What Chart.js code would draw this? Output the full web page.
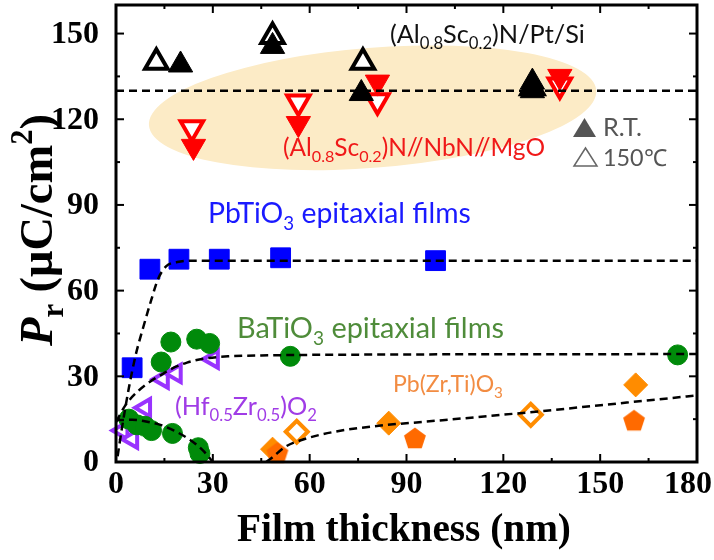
<!DOCTYPE html>
<html>
<head>
<meta charset="utf-8">
<script src="https://cdn.jsdelivr.net/npm/chart.js@4.4.0/dist/chart.umd.min.js"></script>
<style>
  html, body { margin: 0; padding: 0; background: #fff; }
  #wrap { width: 714px; height: 560px; }
</style>
</head>
<body>
<div id="wrap"><canvas id="prChart" width="714" height="560"></canvas></div>
<script>
// Tick labels
const xTicks = [0, 30, 60, 90, 120, 150, 180];
const yTicks = [0, 30, 60, 90, 120, 150];

// (Al0.8Sc0.2)N/Pt/Si  (R.T. filled, 150C open)
const alscSiRT = [{x: 20, y: 139}, {x: 48.5, y: 145.5}, {x: 76, y: 129}, {x: 129, y: 130}, {x: 129, y: 133}];
const alscSi150 = [{x: 12.5, y: 140}, {x: 48.5, y: 149}, {x: 76.5, y: 140}, {x: 129, y: 131}];

// (Al0.8Sc0.2)N//NbN//MgO
const alscMgoRT = [{x: 24, y: 110.5}, {x: 56.5, y: 118.5}, {x: 81, y: 133}, {x: 137.5, y: 135}];
const alscMgo150 = [{x: 23.5, y: 117}, {x: 56.5, y: 126}, {x: 81, y: 126.5}, {x: 137.5, y: 132}];

// PbTiO3 epitaxial films
const pbtio3 = [{x: 5, y: 33}, {x: 10.5, y: 67.5}, {x: 19.5, y: 71}, {x: 32, y: 71}, {x: 51, y: 71.5}, {x: 99, y: 70.5}];

// BaTiO3 epitaxial films
const batio3 = [
  {x: 4, y: 15}, {x: 6.5, y: 13}, {x: 9, y: 12.5}, {x: 11, y: 11}, {x: 17.5, y: 10},
  {x: 25.5, y: 5}, {x: 26, y: 3}, {x: 14, y: 35}, {x: 17, y: 42}, {x: 25, y: 43},
  {x: 29, y: 41.5}, {x: 54, y: 37}, {x: 174, y: 37.5}
];

// (Hf0.5Zr0.5)O2
const hzo = [{x: 2, y: 11}, {x: 5, y: 8}, {x: 9, y: 19}, {x: 14.5, y: 29}, {x: 18.5, y: 31}, {x: 30, y: 36}];

// Pb(Zr,Ti)O3
const pztFilled = [{x: 48.5, y: 4.5}, {x: 84.5, y: 13.6}, {x: 161, y: 27}];
const pztOpen = [{x: 56, y: 10.6}, {x: 128.5, y: 16.5}];
const pztPenta = [{x: 50, y: 3.3}, {x: 92.6, y: 8.4}, {x: 160.5, y: 14.6}];

// dashed guide curves
const guideAlsc = [{x: 0, y: 130}, {x: 180, y: 130}];
const guidePbtio3 = [
  {x: 0.5, y: 2}, {x: 2, y: 13}, {x: 4, y: 26}, {x: 6, y: 37}, {x: 8.4, y: 47}, {x: 11, y: 57},
  {x: 13, y: 64}, {x: 15.5, y: 68.5}, {x: 19, y: 70}, {x: 25, y: 70.5}, {x: 40, y: 70.5}, {x: 180, y: 70.5}
];
const guideBatio3Up = [
  {x: 0, y: 14}, {x: 3, y: 20}, {x: 7, y: 25}, {x: 11, y: 28.5}, {x: 14, y: 30.5}, {x: 17, y: 32.5},
  {x: 22, y: 34.8}, {x: 28, y: 36.3}, {x: 35, y: 37}, {x: 45, y: 37.3}, {x: 60, y: 37.5}, {x: 180, y: 37.8}
];
const guideBatio3Down = [
  {x: 0, y: 14.6}, {x: 5, y: 14.8}, {x: 10, y: 14}, {x: 14, y: 12.9}, {x: 18, y: 11},
  {x: 23, y: 7.7}, {x: 27, y: 4}, {x: 30, y: 0}
];
const guidePzt = [
  {x: 46.5, y: 0}, {x: 48, y: 1.2}, {x: 52.4, y: 5.3}, {x: 57.5, y: 7.7}, {x: 67.8, y: 10.6},
  {x: 83.3, y: 12.9}, {x: 95.7, y: 14.1}, {x: 128, y: 17.4}, {x: 180, y: 23.3}
];

// pentagon marker
function makePentagon(size, color) {
  const c = document.createElement('canvas');
  c.width = size; c.height = size;
  const g = c.getContext('2d');
  const r = size / 2 - 0.5;
  g.beginPath();
  for (let i = 0; i < 5; i++) {
    const a = -Math.PI / 2 + i * 2 * Math.PI / 5;
    const px = size / 2 + r * Math.cos(a), py = size / 2 + 1 + r * Math.sin(a);
    i ? g.lineTo(px, py) : g.moveTo(px, py);
  }
  g.closePath();
  g.fillStyle = color;
  g.fill();
  return c;
}

// draws text with sub/superscripts; optional width scales the font to fit
function drawRuns(ctx, runs, x, y, opts) {
  const family = opts.family, weight = opts.weight || 'normal';
  const layout = size => runs.map(([t, mode, style]) => {
    const s = mode ? size * 0.66 : size;
    const font = `${style || 'normal'} ${weight} ${s}px ${family}`;
    ctx.font = font;
    const dy = mode === 'sub' ? size * 0.24 : mode === 'sup' ? -size * 0.42 : 0;
    return {t, font, w: ctx.measureText(t).width, dy};
  });
  let size = opts.size;
  let parts = layout(size);
  let total = parts.reduce((a, p) => a + p.w, 0);
  if (opts.width) {
    size = size * opts.width / total;
    parts = layout(size);
    total = parts.reduce((a, p) => a + p.w, 0);
  }
  let cx = opts.align === 'center' ? x - total / 2 : x;
  ctx.fillStyle = opts.color;
  ctx.textAlign = 'left';
  ctx.textBaseline = 'alphabetic';
  parts.forEach(p => { ctx.font = p.font; ctx.fillText(p.t, cx, y + p.dy); cx += p.w; });
  return total;
}

const SANS = 'Lato, "Open Sans", sans-serif';
const SERIF = '"Liberation Serif", "Times New Roman", serif';
const TICK_FONT = `bold 32px ${SERIF}`;

const backdrop = {
  id: 'backdrop',
  beforeDatasetsDraw(chart) {
    const {ctx, scales: {x, y}} = chart;
    const cx = x.getPixelForValue(79.5), cy = y.getPixelForValue(124);
    const rx = x.getPixelForValue(69.5) - x.getPixelForValue(0);
    const ry = y.getPixelForValue(0) - y.getPixelForValue(21);
    ctx.save();
    ctx.fillStyle = '#fcebc6';
    ctx.beginPath();
    ctx.ellipse(cx, cy, rx, ry, -4.5 * Math.PI / 180, 0, 2 * Math.PI);
    ctx.fill();
    ctx.restore();
  },
  afterDraw(chart) {
    const {ctx, chartArea: a, scales: {x, y}} = chart;
    ctx.save();
    ctx.strokeStyle = '#000';
    ctx.lineWidth = 2;
    const seg = (x1, y1, x2, y2) => { ctx.beginPath(); ctx.moveTo(x1, y1); ctx.lineTo(x2, y2); ctx.stroke(); };
    for (let v = 0; v <= 180; v += 15) {
      const px = x.getPixelForValue(v), len = v % 30 ? 4 : 8;
      seg(px, a.bottom, px, a.bottom - len);
      seg(px, a.top, px, a.top + len);
    }
    for (let v = 0; v <= 160; v += 15) {
      const py = y.getPixelForValue(v), len = v % 30 ? 4 : 8;
      seg(a.left, py, a.left + len, py);
      seg(a.right, py, a.right - len, py);
    }
    ctx.lineWidth = 3;
    ctx.strokeRect(a.left, a.top, a.right - a.left, a.bottom - a.top);

    // tick labels; the last x label is kept inside the canvas
    ctx.font = TICK_FONT;
    ctx.fillStyle = '#000';
    ctx.textBaseline = 'top';
    ctx.textAlign = 'center';
    xTicks.forEach(v => {
      const w = ctx.measureText(String(v)).width;
      const px = Math.min(x.getPixelForValue(v), chart.width - 2 - w / 2);
      ctx.fillText(String(v), px, a.bottom + 7);
    });
    ctx.textBaseline = 'middle';
    ctx.textAlign = 'right';
    yTicks.forEach(v => ctx.fillText(String(v), a.left - 17, y.getPixelForValue(v) + 1));

    // annotations
    const f = {size: 24, family: SANS};
    drawRuns(ctx, [['(Al'], ['0.8', 'sub'], ['Sc'], ['0.2', 'sub'], [')N/Pt/Si']], 390, 43, {...f, width: 195, color: '#111'});
    drawRuns(ctx, [['(Al'], ['0.8', 'sub'], ['Sc'], ['0.2', 'sub'], [')N//NbN//MgO']], 283, 156, {...f, width: 262, color: '#f01818'});
    drawRuns(ctx, [['PbTiO'], ['3', 'sub'], [' epitaxial films']], 208, 223, {...f, width: 263, color: '#1a1aff'});
    drawRuns(ctx, [['BaTiO'], ['3', 'sub'], [' epitaxial films']], 237, 338, {...f, width: 267, color: '#4f8c3a'});
    drawRuns(ctx, [['(Hf'], ['0.5', 'sub'], ['Zr'], ['0.5', 'sub'], [')O'], ['2', 'sub']], 175, 415, {...f, width: 142, color: '#a03ce6'});
    drawRuns(ctx, [['Pb(Zr,Ti)O'], ['3', 'sub']], 393, 392, {...f, width: 110, color: '#f28c42'});

    // R.T. / 150C key
    ctx.fillStyle = '#555';
    ctx.beginPath(); ctx.moveTo(573, 137); ctx.lineTo(596, 137); ctx.lineTo(584.5, 118); ctx.closePath(); ctx.fill();
    ctx.strokeStyle = '#666'; ctx.lineWidth = 1.5;
    ctx.beginPath(); ctx.moveTo(574, 166); ctx.lineTo(597, 166); ctx.lineTo(585.5, 148); ctx.closePath(); ctx.stroke();
    drawRuns(ctx, [['R.T.']], 603, 136, {...f, width: 39, color: '#555'});
    drawRuns(ctx, [['150\u2103']], 603, 166, {...f, width: 64, color: '#555'});

    // axis titles
    drawRuns(ctx, [['Film thickness (nm)']], 404, 541,
      {size: 30, width: 334, family: SERIF, weight: 'bold', color: '#000', align: 'center'});
    ctx.save();
    ctx.translate(41, 230);
    ctx.rotate(-Math.PI / 2);
    drawRuns(ctx, [['P', '', 'italic'], ['r', 'sub'], [' (\u03BCC/cm'], ['2', 'sup'], [')']], 0, 11,
      {size: 31, width: 232, family: SERIF, weight: 'bold', color: '#000', align: 'center'});
    ctx.restore();
    ctx.restore();
  }
};

function markers(data, style, opts) {
  return Object.assign({
    type: 'scatter', data, pointStyle: style, clip: false, order: 2
  }, opts);
}

function guide(data) {
  return {
    type: 'line', data, showLine: true, pointRadius: 0, borderColor: '#000', borderWidth: 2.5,
    borderDash: [8, 5], fill: false, cubicInterpolationMode: 'monotone', order: 0
  };
}

function noPadding(axis) {
  axis.paddingTop = 0; axis.paddingBottom = 0; axis.paddingLeft = 0; axis.paddingRight = 0;
}

const pentagon = makePentagon(24, '#ff6a00');

new Chart(document.getElementById('prChart'), {
  type: 'scatter',
  data: {
    datasets: [
      guide(guideAlsc), guide(guidePbtio3), guide(guideBatio3Up), guide(guideBatio3Down), guide(guidePzt),
      markers(alscSiRT, 'triangle', {pointRadius: 14, backgroundColor: '#000', borderColor: '#000', borderWidth: 1, order: 1}),
      markers(alscSi150, 'triangle', {pointRadius: 13, backgroundColor: '#fff', borderColor: '#000', borderWidth: 4, order: 2}),
      markers(alscMgoRT, 'triangle', {pointRadius: 14, rotation: 180, backgroundColor: '#ff0000', borderColor: '#ff0000', borderWidth: 1, order: 1}),
      markers(alscMgo150, 'triangle', {pointRadius: 13, rotation: 180, backgroundColor: '#fff', borderColor: '#ff0000', borderWidth: 4, order: 2}),
      markers(pbtio3, 'rect', {pointRadius: 14, backgroundColor: '#0000ff', borderColor: '#0000ff', borderWidth: 1, order: 1}),
      markers(batio3, 'circle', {pointRadius: 10, backgroundColor: '#008a0a', borderColor: '#008a0a', borderWidth: 1, order: 1}),
      markers(hzo, 'triangle', {pointRadius: 10, rotation: -90, backgroundColor: '#fff', borderColor: '#9933ff', borderWidth: 4, order: 3}),
      markers(pztOpen, 'rectRot', {pointRadius: 11, backgroundColor: '#fff', borderColor: '#ff8c00', borderWidth: 4, order: 2}),
      markers(pztFilled, 'rectRot', {pointRadius: 12, backgroundColor: '#ff8c00', borderColor: '#ff8c00', borderWidth: 1, order: 2}),
      markers(pztPenta, pentagon, {pointRadius: 12, order: 1})
    ]
  },
  options: {
    responsive: false,
    animation: false,
    layout: {autoPadding: false, padding: {top: 5, right: 17, left: 0, bottom: 0}},
    plugins: {legend: {display: false}, tooltip: {enabled: false}},
    scales: {
      x: {
        type: 'linear', min: 0, max: 180,
        grid: {display: false, drawTicks: false},
        border: {display: false},
        ticks: {display: false},
        afterBuildTicks: axis => { axis.ticks = xTicks.map(v => ({value: v})); },
        afterFit: axis => { axis.height = 98; noPadding(axis); }
      },
      y: {
        type: 'linear', min: 0, max: 160,
        grid: {display: false, drawTicks: false},
        border: {display: false},
        ticks: {display: false},
        afterBuildTicks: axis => { axis.ticks = yTicks.map(v => ({value: v})); },
        afterFit: axis => { axis.width = 116; noPadding(axis); }
      }
    }
  },
  plugins: [backdrop]
});
</script>
</body>
</html>
